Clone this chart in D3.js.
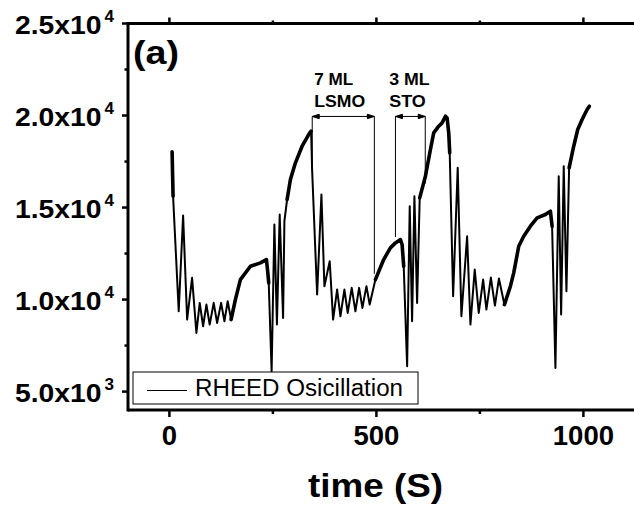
<!DOCTYPE html>
<html>
<head>
<meta charset="utf-8">
<script src="https://cdn.jsdelivr.net/npm/d3@7"></script>
<style>
  body { margin: 0; background: #fff; }
  svg { display: block; font-family: Arial, "Liberation Sans", sans-serif; }
</style>
</head>
<body>
<div id="chart"></div>
<script>
// RHEED intensity trace: time (s) and intensity
var time = [6.5, 8.9, 22.5, 33.1, 42.8, 54.8, 65.2, 73.2, 81.4, 89.4, 97.3, 107, 115.2, 124.9, 132.9, 140.8, 149,
    159.4, 171.5, 195.7, 219.8, 234.3, 237.4, 239.9, 246.9, 253.6, 259.7, 266.4, 274.6, 277.8, 284.3, 292.3, 304.4,
    320.5, 336.5, 342.3, 344.7, 356.8, 367.2, 374.4, 387.2, 395.4, 405.1, 413.1, 422.7, 430.7, 440.4, 449.3, 458.2,
    466.2, 475.9, 483.8, 497.6, 517.6, 533.8, 545.9, 558, 562.1, 566, 574.2, 580.5, 586.2, 591.8, 598.3, 604.6,
    618.4, 630.5, 638.4, 650.5, 658.7, 666.7, 670.8, 674.7, 677.1, 685.3, 696.4, 705.3, 719.1, 727.1, 737.5, 747.2,
    757.8, 765.7, 776.5, 786.3, 795.9, 809.2, 823.7, 831.7, 843.8, 855.8, 872, 888.2, 908.2, 920.3, 924.4, 932.4,
    940.4, 946.2, 952.5, 959, 965.5, 976.6, 986.3, 996.9, 1009, 1014.5];
var intensity = [18030, 15615, 9364, 14566, 8913, 11180, 8190, 9820, 8550, 9728, 8641, 9820, 8730, 9820, 8820, 9910, 8913,
    10000, 11087, 11810, 11995, 12174, 11540, 10908, 6103, 14076, 8641, 14620, 9005, 14256, 15435, 16522, 17430,
    18332, 18968, 19150, 17065, 10272, 15707, 10727, 12082, 8913, 10544, 9093, 10544, 9276, 10636, 9364, 10636,
    9547, 10727, 9728, 11087, 12174, 12810, 13080, 13261, 12990, 11810, 6375, 15072, 8820, 15615, 9820, 15526,
    16704, 18152, 19058, 19420, 19600, 19963, 19870, 19058, 17970, 10180, 17160, 9093, 13440, 8641, 11630, 9276,
    11087, 9457, 11196, 9674, 11142, 9728, 10727, 11452, 12897, 13440, 13984, 14440, 14620, 14800, 13984, 6288,
    16702, 9185, 17246, 10453, 17160, 18332, 19240, 19783, 20326, 20506];

// stretches where the trace is a thick noisy band
var noisyFrom = [6, 149, 284, 497, 604, 809, 965];
var noisyTo = [10, 240, 344, 566, 678, 925, 1015];

var xTicks = [0, 500, 1000];
var xMinor = [250, 750];
var yTicks = [5000, 10000, 15000, 20000, 25000];
var yMinor = [7500, 12500, 17500, 22500];
var yTickMant = ["5.0", "1.0", "1.5", "2.0", "2.5"];
var yTickExp = ["3", "4", "4", "4", "4"];

// growth brackets
var bracketTop = ["7 ML", "3 ML"];
var bracketBottom = ["LSMO", "STO"];
var bracketStart = [345, 546];
var bracketEnd = [495, 618];
var bracketStartFoot = [17000, 13400];
var bracketEndFoot = [11400, 16300];
var bracketLevel = 19950;
var labelStart = [350, 531];

var data = time.map(function(t, i) { return { t: t, v: intensity[i] }; });

var width = 634, height = 510;
var svg = d3.select("#chart").append("svg")
    .attr("width", width)
    .attr("height", height);

var plotLeft = 128, plotTop = 23.5, plotBottom = 410;
var x = d3.scaleLinear().domain([-100, 1200]).range([plotLeft, plotLeft + 1300 * 0.414]);
var y = d3.scaleLinear().domain([4000, 25000]).range([plotBottom, plotTop]);

var line = d3.line()
    .x(function(d) { return x(d.t); })
    .y(function(d) { return y(d.v); });

// the figure's lettering is a little wider than plain Arial, so stretch each text to its width
function boldText(sel, size, len) {
    return sel.style("font-size", size + "px").style("font-weight", "bold")
        .attr("textLength", len).attr("lengthAdjust", "spacingAndGlyphs");
}

// trace
svg.append("path")
    .datum(data)
    .attr("fill", "none")
    .attr("stroke", "#000")
    .attr("stroke-width", 2)
    .attr("stroke-linejoin", "round")
    .attr("d", line);

for (var k = 0; k < noisyFrom.length; k++) {
    var part = data.filter(function(d) { return d.t >= noisyFrom[k] && d.t <= noisyTo[k]; });
    svg.append("path")
        .datum(part)
        .attr("fill", "none")
        .attr("stroke", "#000")
        .attr("stroke-width", 3.6)
        .attr("stroke-linejoin", "round")
        .attr("stroke-linecap", "round")
        .attr("d", line);
}

// brackets
var topLen = [39, 40.5], bottomLen = [51, 36.5];
for (var b = 0; b < bracketStart.length; b++) {
    var x0 = x(bracketStart[b]), x1 = x(bracketEnd[b]), yb = y(bracketLevel);
    var g = svg.append("g").attr("stroke", "#000").attr("stroke-width", 1);
    g.append("line").attr("x1", x0).attr("x2", x0).attr("y1", yb).attr("y2", y(bracketStartFoot[b]));
    g.append("line").attr("x1", x1).attr("x2", x1).attr("y1", yb).attr("y2", y(bracketEndFoot[b]));
    g.append("line").attr("x1", x0).attr("x2", x1).attr("y1", yb).attr("y2", yb);
    g.append("path").attr("fill", "#000")
        .attr("d", "M" + x0 + "," + yb + "l7,-2.2v4.4z");
    g.append("path").attr("fill", "#000")
        .attr("d", "M" + x1 + "," + yb + "l-7,-2.2v4.4z");
    boldText(svg.append("text")
        .attr("x", x(labelStart[b])).attr("y", yb - 31), 16.5, topLen[b])
        .text(bracketTop[b]);
    boldText(svg.append("text")
        .attr("x", x(labelStart[b])).attr("y", yb - 9), 16.5, bottomLen[b])
        .text(bracketBottom[b]);
}

// frame
var frame = svg.append("g").attr("stroke", "#000").attr("stroke-width", 3).attr("fill", "none");
frame.append("line").attr("x1", plotLeft).attr("x2", width + 5).attr("y1", plotTop).attr("y2", plotTop);
frame.append("line").attr("x1", plotLeft).attr("x2", width + 5).attr("y1", plotBottom).attr("y2", plotBottom);
frame.append("line").attr("x1", plotLeft).attr("x2", plotLeft).attr("y1", plotTop - 1.5).attr("y2", plotBottom + 1.5);

// ticks
var ticks = svg.append("g").attr("stroke", "#000").attr("stroke-width", 2.5);
xTicks.forEach(function(t) {
    ticks.append("line").attr("x1", x(t)).attr("x2", x(t)).attr("y1", plotBottom).attr("y2", plotBottom + 7);
    ticks.append("line").attr("x1", x(t)).attr("x2", x(t)).attr("y1", plotTop).attr("y2", plotTop - 6);
});
xMinor.forEach(function(t) {
    ticks.append("line").attr("x1", x(t)).attr("x2", x(t)).attr("y1", plotBottom).attr("y2", plotBottom + 4);
    ticks.append("line").attr("x1", x(t)).attr("x2", x(t)).attr("y1", plotTop).attr("y2", plotTop - 3);
});
yTicks.forEach(function(v) {
    ticks.append("line").attr("x1", plotLeft).attr("x2", plotLeft - 6).attr("y1", y(v)).attr("y2", y(v));
});
yMinor.forEach(function(v) {
    ticks.append("line").attr("x1", plotLeft).attr("x2", plotLeft - 3.5).attr("y1", y(v)).attr("y2", y(v));
});

// tick labels
svg.selectAll(".xlab")
    .data(xTicks)
    .enter().append("text")
    .attr("class", "xlab")
    .attr("x", function(d) { return x(d); })
    .attr("y", 445)
    .attr("text-anchor", "middle")
    .style("font-size", "27.5px").style("font-weight", "bold")
    .text(function(d) { return d; });

yTicks.forEach(function(v, i) {
    boldText(svg.append("text")
        .attr("x", 15).attr("y", y(v) + 10), 26.5, 86.5)
        .text(yTickMant[i] + "x10");
    boldText(svg.append("text")
        .attr("x", 104.5).attr("y", y(v) - 2), 16, 9.5)
        .text(yTickExp[i]);
});

// axis title
boldText(svg.append("text")
    .attr("x", 308).attr("y", 497), 34, 135)
    .text("time (S)");

// panel letter
boldText(svg.append("text")
    .attr("x", 133).attr("y", 64), 33, 46)
    .text("(a)");

// legend
var leg = svg.append("g");
leg.append("rect")
    .attr("x", 133).attr("y", 372).attr("width", 285).attr("height", 32)
    .attr("fill", "#fff").attr("stroke", "#000").attr("stroke-width", 1);
leg.append("line")
    .attr("x1", 147).attr("x2", 187).attr("y1", 390.5).attr("y2", 390.5)
    .attr("stroke", "#000").attr("stroke-width", 1.2);
leg.append("text")
    .attr("x", 195).attr("y", 396)
    .attr("textLength", 208).attr("lengthAdjust", "spacingAndGlyphs")
    .style("font-size", "23.5px")
    .text("RHEED Osicillation");
</script>
</body>
</html>
